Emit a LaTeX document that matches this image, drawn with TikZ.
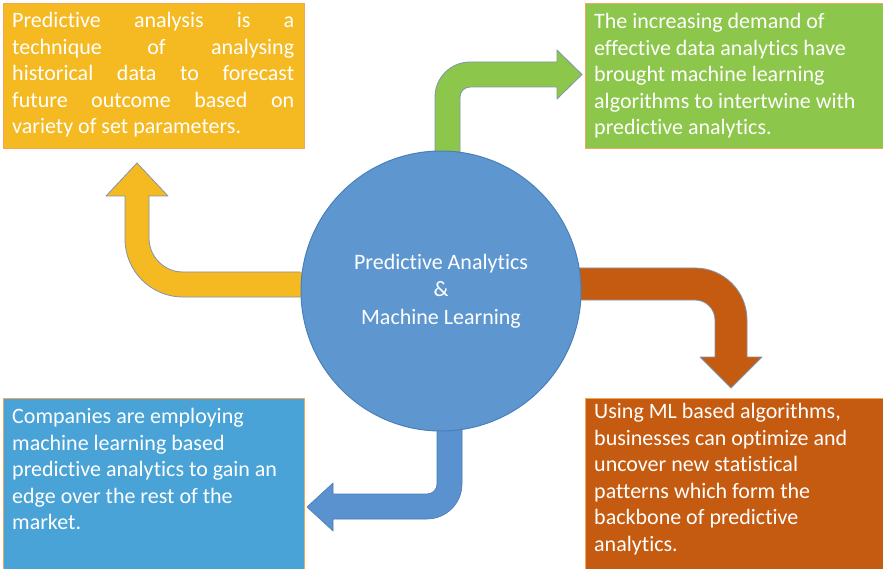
\documentclass[tikz,border=0pt]{standalone}
\usepackage{fontspec}
\setmainfont{Carlito}[Ligatures=NoCommon]
\definecolor{ylw}{HTML}{F5B921}
\definecolor{grn}{HTML}{8CC64B}
\definecolor{bluebox}{HTML}{49A3D6}
\definecolor{orng}{HTML}{C55A11}
\definecolor{circ}{HTML}{5E97CF}
\definecolor{circedge}{HTML}{4A7FB8}
\definecolor{bluearr}{HTML}{5A91CF}
\definecolor{boxedge}{HTML}{F2A65A}
\definecolor{arredge}{HTML}{8194AE}
\begin{document}
\begin{tikzpicture}[x=1pt,y=-1pt,
  box/.style={draw=boxedge, line width=0.8pt, anchor=north west, inner sep=0pt},
  txt/.style={text=white, font=\fontsize{22}{26.6}\selectfont, anchor=north west, inner sep=0pt},
  arr/.style={draw=arredge, line width=0.8pt, line join=round}]
\useasboundingbox (0,0) rectangle (883,569);

% boxes
\node[box, fill=ylw, minimum width=301pt, minimum height=145pt] (yb) at (3,3) {};
\node[box, fill=grn, minimum width=305pt, minimum height=145pt] (gb) at (585,3) {};
\node[box, fill=bluebox, minimum width=301pt, minimum height=180pt] (bb) at (3,398) {};
\node[box, fill=orng, minimum width=305pt, minimum height=180pt] (ob) at (585,398) {};

% box texts
\node[txt, text width=282pt, align=justify] (yt) at (12,8.6)
  {\hyphenpenalty=10000\strut Predictive analysis is a\linebreak technique of analysing\linebreak historical data to forecast\linebreak future outcome based on\linebreak variety of set parameters.};
\node[txt, align=left] (gt) at (594,9.6)
  {\strut The increasing demand of\\effective data analytics have\\brought machine learning\\algorithms to intertwine with\\predictive analytics.};
\node[txt, align=left] (bt) at (12,404.6)
  {\strut Companies are employing\\machine learning based\\predictive analytics to gain an\\edge over the rest of the\\market.};
\node[txt, align=left] (ot) at (594,399.6)
  {\strut Using ML based algorithms,\\businesses can optimize and\\uncover new statistical\\patterns which form the\\backbone of predictive\\analytics.};

% bent arrows
\fill[ylw] (305,272) -- (183,272) arc[start angle=90, end angle=180, radius=34]
  -- (149,196) -- (168,196) -- (137,163) -- (106,196) -- (125,196) -- (125,239)
  arc[start angle=180, end angle=90, radius=58] -- (305,297) -- cycle;
\draw[arr] (300,272) -- (183,272) arc[start angle=90, end angle=180, radius=34]
  -- (149,196) -- (168,196) -- (137,163) -- (106,196) -- (125,196) -- (125,239)
  arc[start angle=180, end angle=90, radius=58] -- (300,297);

\fill[grn] (435,160) -- (435,97) arc[start angle=180, end angle=270, radius=35]
  -- (557,62) -- (557,50) -- (582,74.5) -- (557,99) -- (557,87) -- (470,87)
  arc[start angle=270, end angle=180, radius=10] -- (460,160) -- cycle;
\draw[arr] (435,155) -- (435,97) arc[start angle=180, end angle=270, radius=35]
  -- (557,62) -- (557,50) -- (582,74.5) -- (557,99) -- (557,87) -- (470,87)
  arc[start angle=270, end angle=180, radius=10] -- (460,155);

\fill[orng] (575,268) -- (695,268) arc[start angle=270, end angle=360, radius=52]
  -- (747,357) -- (762,357) -- (731,388) -- (700,357) -- (715,357) -- (715,320)
  arc[start angle=0, end angle=-90, radius=20] -- (575,300) -- cycle;
\draw[arr] (580,268) -- (695,268) arc[start angle=270, end angle=360, radius=52]
  -- (747,357) -- (762,357) -- (731,388) -- (700,357) -- (715,357) -- (715,320)
  arc[start angle=0, end angle=-90, radius=20] -- (580,300);

\fill[bluearr] (437,420) -- (437,484) arc[start angle=0, end angle=90, radius=10]
  -- (333,494) -- (333,483) -- (307,507) -- (333,531) -- (333,519) -- (427,519)
  arc[start angle=90, end angle=0, radius=35] -- (462,420) -- cycle;
\draw[draw=bluearr!85!black, line width=0.6pt, line join=round] (437,425) -- (437,484) arc[start angle=0, end angle=90, radius=10]
  -- (333,494) -- (333,483) -- (307,507) -- (333,531) -- (333,519) -- (427,519)
  arc[start angle=90, end angle=0, radius=35] -- (462,425);

% hub
\node[circle, fill=circ, draw=circedge, line width=1pt, minimum size=280pt, inner sep=0pt,
  text=white, font=\fontsize{22}{27.5}\selectfont, align=center] (hub) at (441,291)
  {Predictive Analytics\\\&\\Machine Learning};
\end{tikzpicture}
\end{document}
